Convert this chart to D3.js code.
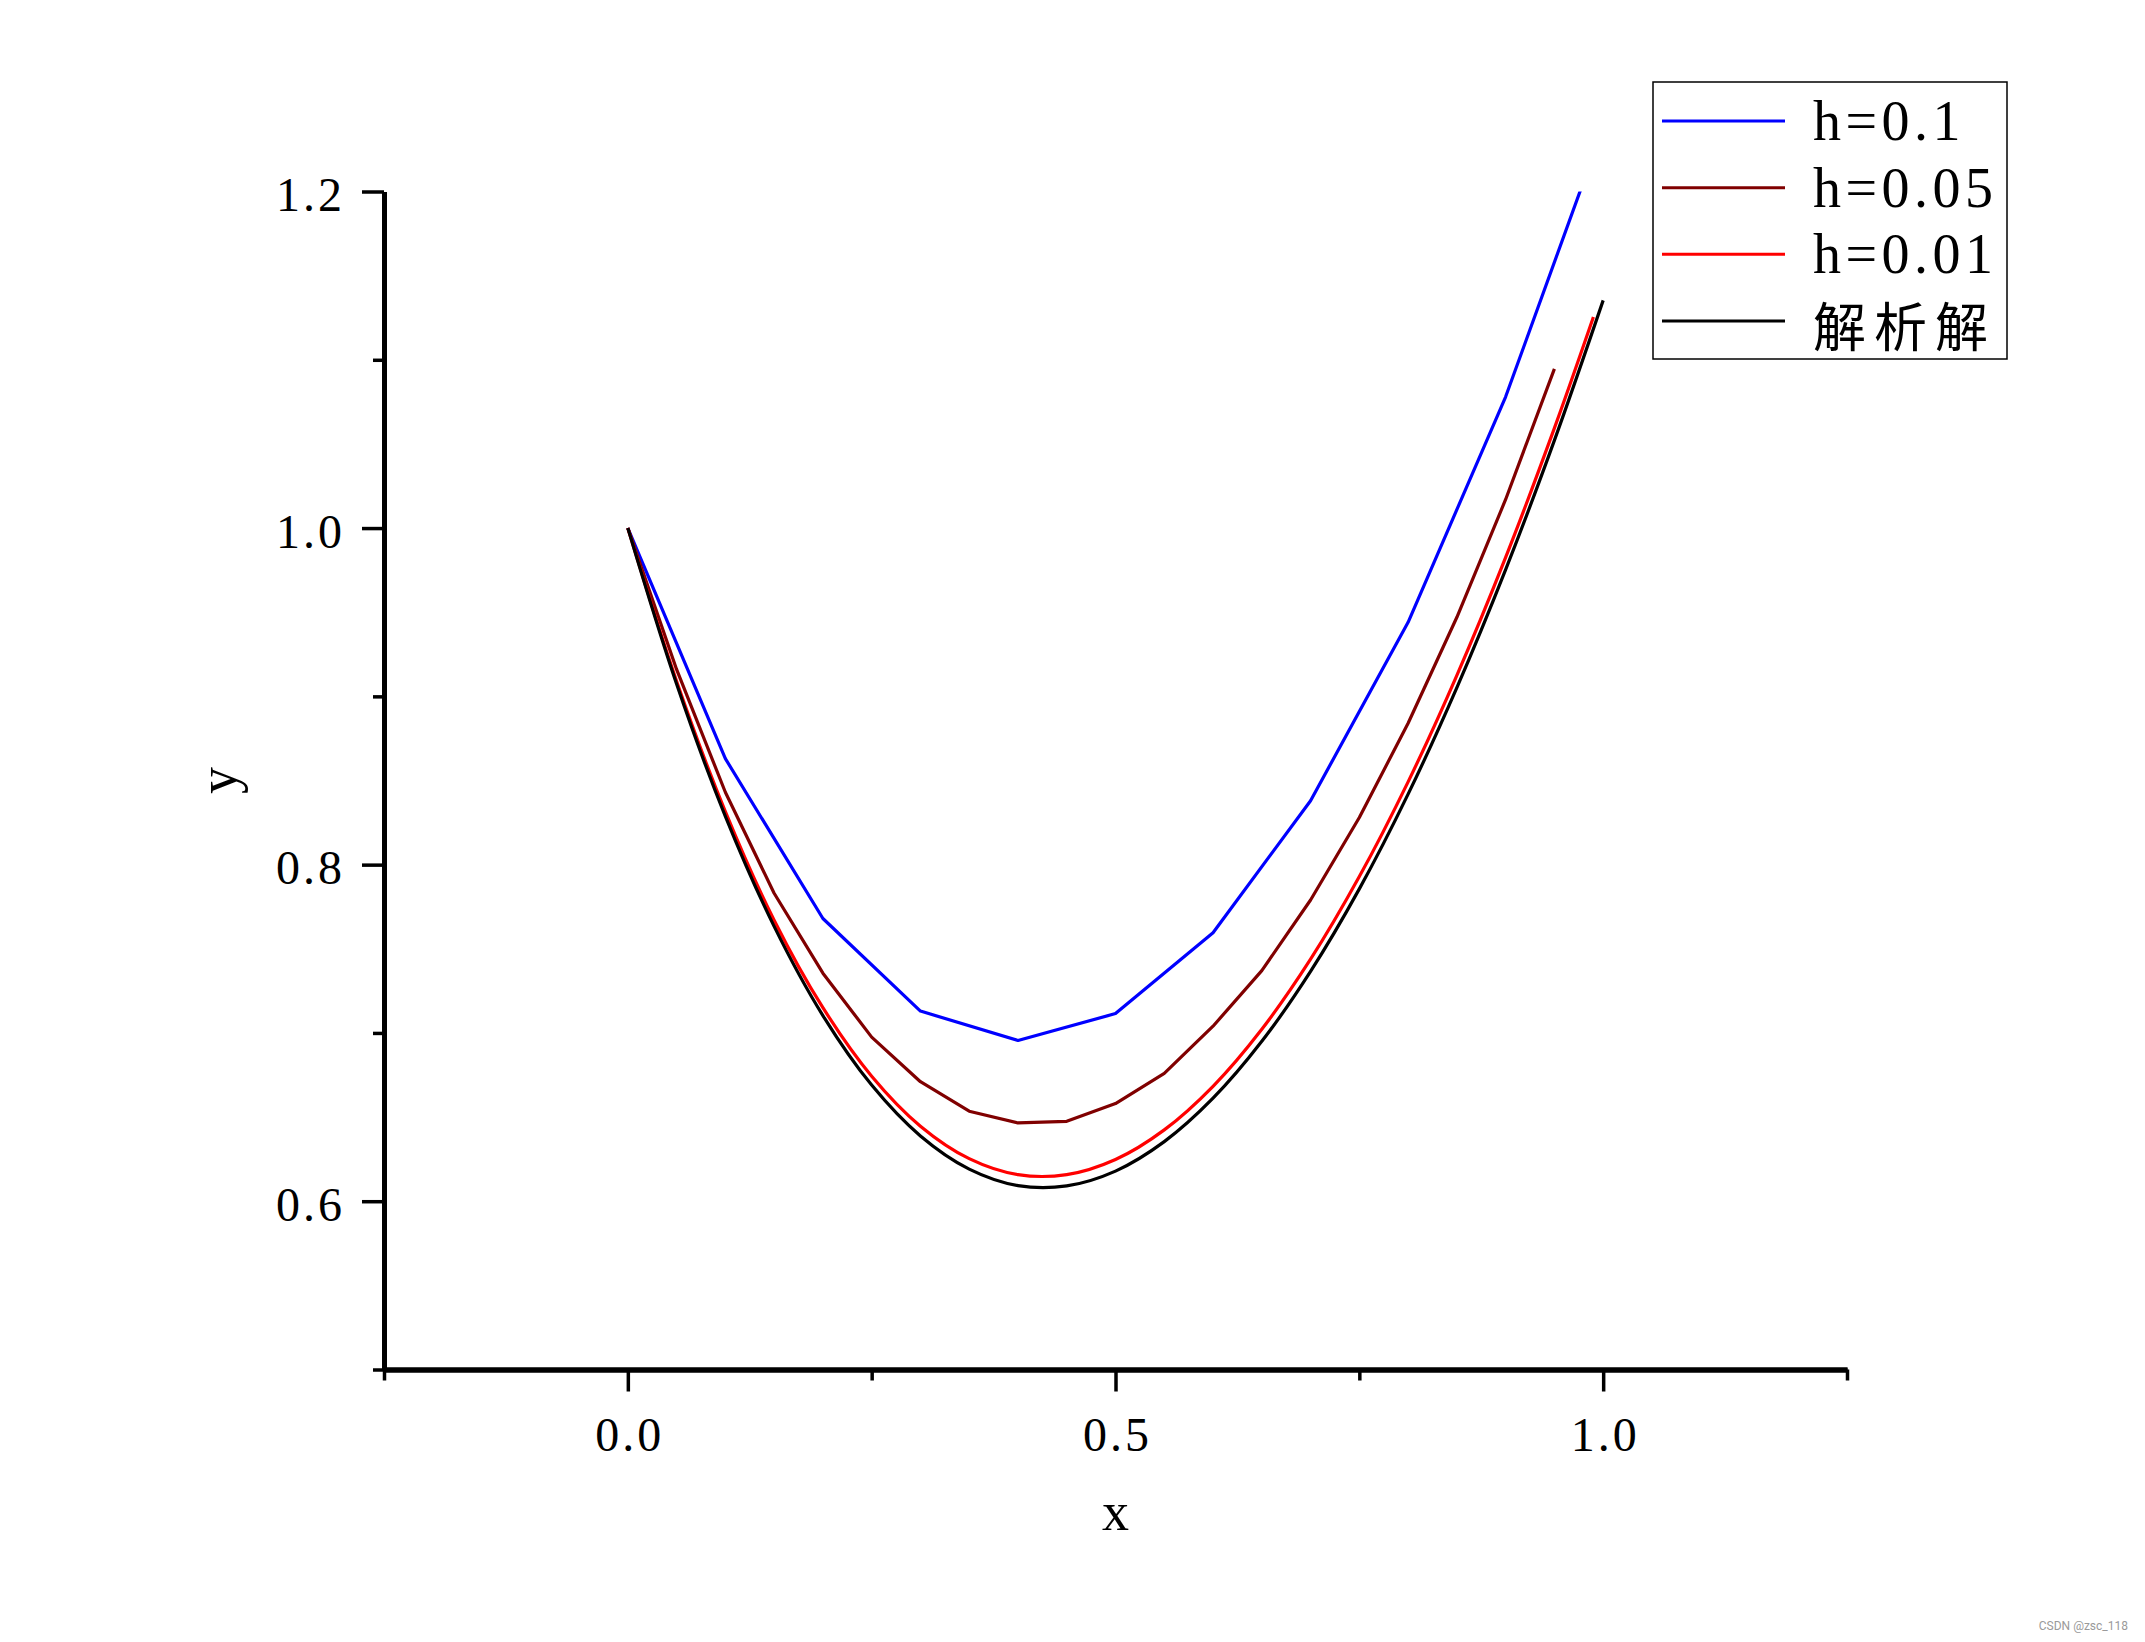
<!DOCTYPE html>
<html>
<head>
<meta charset="utf-8">
<script src="https://cdn.jsdelivr.net/npm/d3@7"></script>
<style>
  html, body { margin: 0; padding: 0; background: #fff; }
  svg { display: block; }
</style>
</head>
<body>
<script>
// ---------- data ----------
const xBlue = [0, 0.1, 0.2, 0.3, 0.4, 0.5, 0.6, 0.7, 0.8, 0.9, 1.0];
const yBlue = [1.000, 0.863, 0.768, 0.713, 0.6955, 0.7115, 0.7595, 0.838, 0.944, 1.078, 1.238];

const xDark = [0, 0.05, 0.1, 0.15, 0.2, 0.25, 0.3, 0.35, 0.4, 0.45, 0.5, 0.55, 0.6, 0.65, 0.7, 0.75, 0.8, 0.85, 0.9, 0.95];
const yDark = [1.000, 0.916, 0.843, 0.783, 0.7355, 0.6975, 0.671, 0.6535, 0.6465, 0.6475, 0.658, 0.676, 0.704, 0.737, 0.779, 0.828, 0.884, 0.947, 1.017, 1.0946];

const xRed = [0, 0.05, 0.1, 0.15, 0.2, 0.25, 0.3, 0.35, 0.4, 0.45, 0.5, 0.55, 0.6, 0.65, 0.7, 0.75, 0.8, 0.85, 0.9, 0.95, 0.99];
const yRed = [1.000, 0.909, 0.8315, 0.767, 0.715, 0.6743, 0.6446, 0.6253, 0.6158, 0.6158, 0.6248, 0.6424, 0.6683, 0.7022, 0.7438, 0.7929, 0.8492, 0.9125, 0.9826, 1.0594, 1.1254];

const xExact = [0, 0.05, 0.1, 0.15, 0.2, 0.25, 0.3, 0.35, 0.4, 0.45, 0.5, 0.55, 0.6, 0.65, 0.7, 0.75, 0.8, 0.85, 0.9, 0.95, 1.0];
const yExact = [1.000, 0.9073, 0.8287, 0.7633, 0.7103, 0.669, 0.6388, 0.6191, 0.6093, 0.6091, 0.6179, 0.6354, 0.6612, 0.695, 0.7366, 0.7856, 0.8419, 0.9052, 0.9753, 1.0521, 1.1353];

const seriesNames = ["h=0.1", "h=0.05", "h=0.01", "解析解"];
const seriesColors = ["#0000ff", "#800000", "#ff0000", "#000000"];

const xMajorTicks = [0, 0.5, 1.0];
const xMajorLabels = ["0.0", "0.5", "1.0"];
const xMinorTicks = [-0.25, 0.25, 0.75, 1.25];
const yMajorTicks = [0.6, 0.8, 1.0, 1.2];
const yMajorLabels = ["0.6", "0.8", "1.0", "1.2"];
const yMinorTicks = [0.5, 0.7, 0.9, 1.1];

const xDomain = [-0.25, 1.25];
const yDomain = [0.5, 1.2];

// ---------- layout ----------
const W = 2145, H = 1642;
const pL = 384, pR = 1847, pT = 191.5, pB = 1369.5;

const svg = d3.select("body").append("svg")
  .attr("width", W).attr("height", H)
  .attr("viewBox", `0 0 ${W} ${H}`);
svg.append("rect").attr("width", W).attr("height", H).attr("fill", "#fff");

const xs = d3.scaleLinear().domain(xDomain).range([pL, pR]);
const ys = d3.scaleLinear().domain(yDomain).range([pB, pT]);

const tickFont = "'Liberation Serif', 'DejaVu Serif', serif";

// clip
svg.append("defs").append("clipPath").attr("id", "plotclip")
  .append("rect").attr("x", pL).attr("y", pT)
  .attr("width", pR - pL).attr("height", pB - pT);

// ---------- curves ----------
const series = [
  { xv: xBlue, yv: yBlue, curve: d3.curveLinear },
  { xv: xDark, yv: yDark, curve: d3.curveLinear },
  { xv: xRed, yv: yRed, curve: d3.curveCatmullRom.alpha(0.5) },
  { xv: xExact, yv: yExact, curve: d3.curveCatmullRom.alpha(0.5) }
];

const gCurves = svg.append("g").attr("clip-path", "url(#plotclip)");
series.forEach((s, i) => {
  const pts = s.xv.map((v, k) => [v, s.yv[k]]);
  const line = d3.line().x(d => xs(d[0])).y(d => ys(d[1])).curve(s.curve);
  gCurves.append("path")
    .attr("d", line(pts))
    .attr("fill", "none")
    .attr("stroke", seriesColors[i])
    .attr("stroke-width", 3.2)
    .attr("stroke-linejoin", "round");
});

// ---------- axes ----------
function styleAxis(g) {
  g.select(".domain").attr("stroke", "#000").attr("stroke-width", 5);
  g.selectAll(".tick line").attr("stroke", "#000").attr("stroke-width", 3.5);
}

const gxMinor = svg.append("g").attr("transform", `translate(0,${pB})`)
  .call(d3.axisBottom(xs).tickValues(xMinorTicks).tickSize(11).tickSizeOuter(0).tickFormat(""));
styleAxis(gxMinor);
const gx = svg.append("g").attr("transform", `translate(0,${pB})`)
  .call(d3.axisBottom(xs).tickValues(xMajorTicks).tickSize(22).tickSizeOuter(0)
    .tickFormat((d, i) => xMajorLabels[i]));
styleAxis(gx);
gx.selectAll(".tick text")
  .attr("y", 81).attr("dy", 0)
  .attr("font-family", tickFont).attr("font-size", 48)
  .attr("letter-spacing", "3px")
  .attr("dx", 1.5)
  .attr("fill", "#000");

const gyMinor = svg.append("g").attr("transform", `translate(${pL},0)`)
  .call(d3.axisLeft(ys).tickValues(yMinorTicks).tickSize(11).tickSizeOuter(0).tickFormat(""));
styleAxis(gyMinor);
const gy = svg.append("g").attr("transform", `translate(${pL},0)`)
  .call(d3.axisLeft(ys).tickValues(yMajorTicks).tickSize(22).tickSizeOuter(0)
    .tickFormat((d, i) => yMajorLabels[i]));
styleAxis(gy);
gy.selectAll(".tick text")
  .attr("x", -39).attr("dy", 0).attr("y", 19)
  .attr("font-family", tickFont).attr("font-size", 48)
  .attr("letter-spacing", "3px")
  .attr("fill", "#000");

// axis titles
svg.append("text")
  .attr("x", (pL + pR) / 2).attr("y", 1530)
  .attr("text-anchor", "middle")
  .attr("font-family", tickFont).attr("font-size", 54)
  .text("x");
svg.append("text")
  .attr("transform", `translate(236,${(pT + pB) / 2}) rotate(-90)`)
  .attr("text-anchor", "middle")
  .attr("font-family", tickFont).attr("font-size", 54)
  .text("y");

// ---------- legend ----------
const lg = svg.append("g");
lg.append("rect")
  .attr("x", 1653).attr("y", 82).attr("width", 354).attr("height", 277)
  .attr("fill", "#fff").attr("stroke", "#000").attr("stroke-width", 1.5);
const rowY = d3.scalePoint().domain(d3.range(seriesNames.length)).range([121, 321]);
seriesNames.forEach((name, i) => {
  const yy = rowY(i);
  lg.append("line")
    .attr("x1", 1662).attr("x2", 1785).attr("y1", yy).attr("y2", yy)
    .attr("stroke", seriesColors[i]).attr("stroke-width", 3);
  const isCJK = /[\u4e00-\u9fff]/.test(name);
  lg.append("text")
    .attr("x", 1813).attr("y", isCJK ? yy + 26 : yy + 19)
    .attr("font-family", isCJK ? "'Noto Sans CJK SC', sans-serif" : tickFont)
    .attr("font-size", isCJK ? 53 : 56)
    .attr("letter-spacing", isCJK ? "8px" : "4.5px")
    .attr("fill", "#000")
    .text(name);
});

// watermark
svg.append("text")
  .attr("x", 2128).attr("y", 1630)
  .attr("text-anchor", "end")
  .attr("font-family", "Roboto, 'Noto Sans', sans-serif")
  .attr("font-size", 12)
  .attr("fill", "#9a9a9a")
  .text("CSDN @zsc_118");
</script>
</body>
</html>
